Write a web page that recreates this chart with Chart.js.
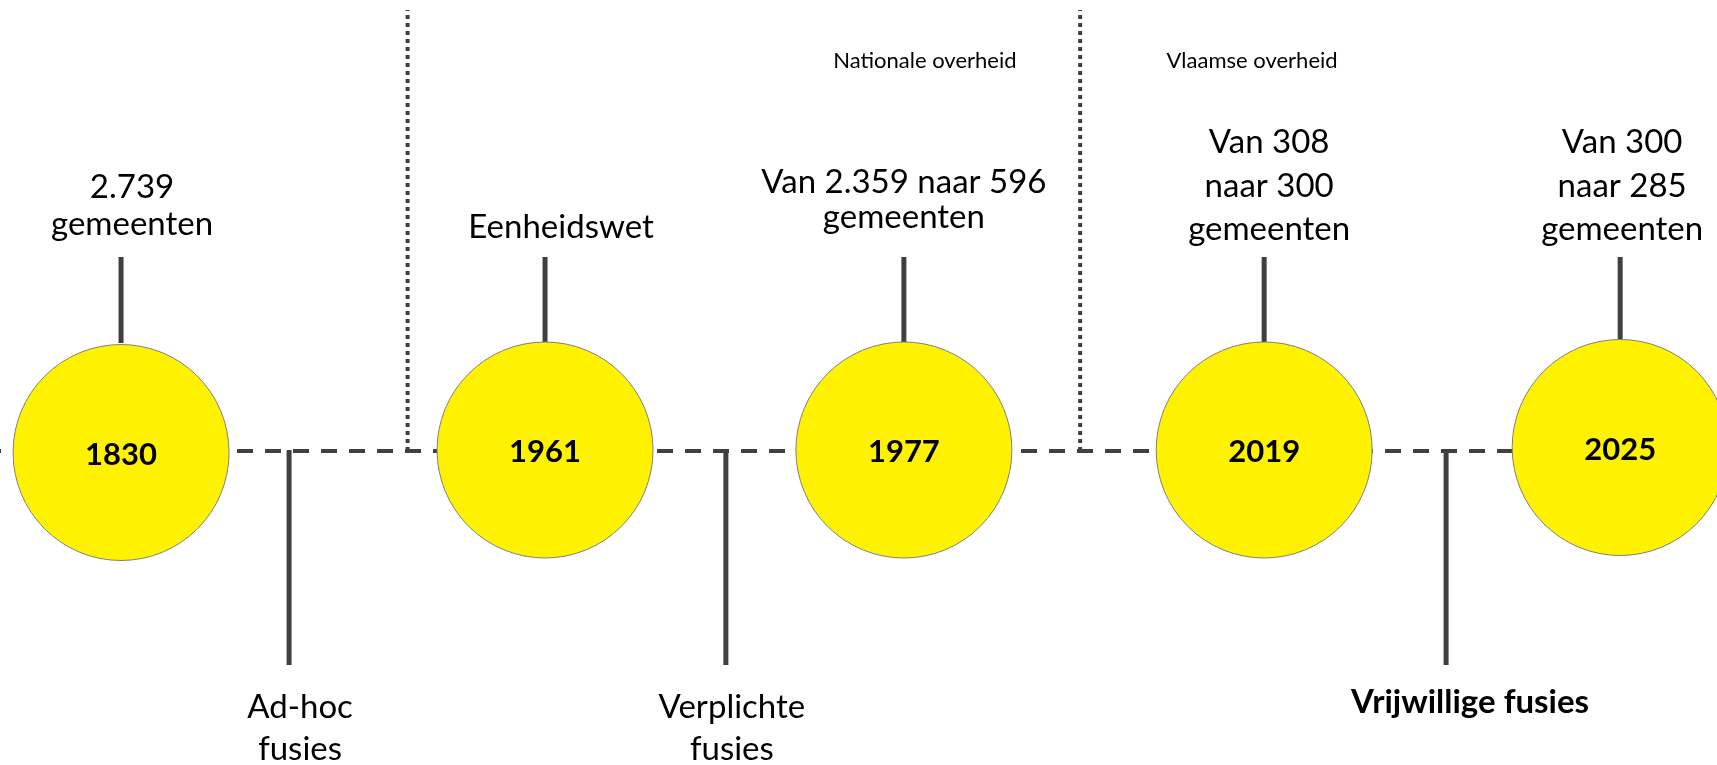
<!DOCTYPE html>
<html>
<head>
<meta charset="utf-8">
<script src="https://cdn.jsdelivr.net/npm/chart.js"></script>
<style>
  html, body { margin: 0; padding: 0; background: #fff; }
  canvas { display: block; }
</style>
</head>
<body>
<canvas id="timeline" width="1717" height="765"></canvas>
<script>
// Timeline data: years, where they sit on the line, and their notes
const years = ['1830', '1961', '1977', '2019', '2025'];
const yearSlots = [0, 1.191, 2.199, 3.211, 4.211];
const yearNotes = [
    ['2.739', 'gemeenten'],
    ['Eenheidswet'],
    ['Van 2.359 naar 596', 'gemeenten'],
    ['Van 308', 'naar 300', 'gemeenten'],
    ['Van 300', 'naar 285', 'gemeenten']
];
// merger phases between the years
const phases = [['Ad-hoc', 'fusies'], ['Verplichte', 'fusies'], ['Vrijwillige fusies']];
const phaseSlots = [0.472, 1.699, 3.722];
const phaseBold = [false, false, true];
// government level boundaries
const eraBreaks = [0.805, 2.694];
const eras = ['Nationale overheid', 'Vlaamse overheid'];
const eraSlots = [2.258, 3.177];

// styling / layout
const LINE = '#404040';
const FONT = 'Lato, "Open Sans", sans-serif';
const circleR = 108;
const circleLift = [-1.5, 1, 1, 1, 3.5];
const stemTop = 194, stemBottom = 108;      // above the line
const phaseStemEnd = -214;                  // below the line
const breakTop = 441;
const noteBase = [235, 238, 228, 240, 240]; // baseline of last note line (px from top)
const noteGap = [37, 0, 35, 43.5, 43.5];
const noteShift = [11, 16, 0, 5, 2];
const phaseShift = [11, 6, 24];

const datasets = [];
datasets.push({
    label: 'years',
    data: yearSlots.map((x, i) => ({ x: x, y: circleLift[i] })),
    pointRadius: circleR,
    pointHoverRadius: circleR,
    pointBackgroundColor: '#FFF200',
    pointBorderColor: '#7F7F7F',
    pointBorderWidth: 1,
    pointHoverBorderWidth: 1,
    showLine: false,
    clip: false,
    order: 0
});
datasets.push({
    label: 'line',
    data: [{ x: -0.34, y: 0 }, { x: 4.49, y: 0 }],
    showLine: true,
    borderColor: LINE,
    borderWidth: 4,
    borderDash: [16, 12],
    borderDashOffset: 15,
    pointRadius: 0,
    order: 5
});
yearSlots.forEach((x, i) => {
    datasets.push({
        label: 'stem' + i,
        data: [{ x: x, y: stemBottom }, { x: x, y: stemTop }],
        showLine: true, borderColor: LINE, borderWidth: 5, pointRadius: 0, order: 3
    });
});
phaseSlots.forEach((x, i) => {
    datasets.push({
        label: 'phase' + i,
        data: [{ x: x, y: 1 }, { x: x, y: phaseStemEnd }],
        showLine: true, borderColor: LINE, borderWidth: 5, pointRadius: 0, order: 3
    });
});
eraBreaks.forEach((x, i) => {
    datasets.push({
        label: 'break' + i,
        data: [{ x: x, y: 0 }, { x: x, y: breakTop }],
        showLine: true, borderColor: LINE, borderWidth: 4, borderDash: [4, 4],
        pointRadius: 0, order: 4
    });
});

const textPlugin = {
    id: 'timelineText',
    afterDatasetsDraw(chart) {
        const ctx = chart.ctx;
        const xs = chart.scales.x, ys = chart.scales.y;
        const py = v => ys.getPixelForValue(v);
        ctx.save();
        ctx.fillStyle = '#000';
        ctx.textAlign = 'center';
        ctx.textBaseline = 'alphabetic';

        // year inside circle
        ctx.font = 'bold 31px ' + FONT;
        years.forEach((t, i) => {
            ctx.fillText(t, xs.getPixelForValue(yearSlots[i]), py(circleLift[i]) + 12);
        });

        // notes above
        ctx.font = '33px ' + FONT;
        yearNotes.forEach((lines, i) => {
            const x = xs.getPixelForValue(yearSlots[i]) + noteShift[i];
            const n = lines.length;
            lines.forEach((t, j) => {
                ctx.fillText(t, x, noteBase[i] - (n - 1 - j) * noteGap[i]);
            });
        });

        // phases below
        phases.forEach((lines, i) => {
            ctx.font = (phaseBold[i] ? 'bold ' : '') + '33px ' + FONT;
            const x = xs.getPixelForValue(phaseSlots[i]) + phaseShift[i];
            const first = phaseBold[i] ? 713 : 718;
            lines.forEach((t, j) => ctx.fillText(t, x, first + j * 42));
        });

        // government levels
        ctx.font = '22px ' + FONT;
        eras.forEach((t, i) => ctx.fillText(t, xs.getPixelForValue(eraSlots[i]), 68));
        ctx.restore();
    }
};

new Chart(document.getElementById('timeline'), {
    type: 'scatter',
    data: { datasets: datasets },
    options: {
        responsive: false,
        animation: false,
        events: [],
        layout: { padding: 0, autoPadding: false },
        plugins: { legend: { display: false }, tooltip: { enabled: false } },
        scales: {
            x: { type: 'linear', min: -0.34, max: 4.483, display: false },
            y: { type: 'linear', min: -314, max: 451, display: false }
        }
    },
    plugins: [textPlugin]
});
</script>
</body>
</html>
